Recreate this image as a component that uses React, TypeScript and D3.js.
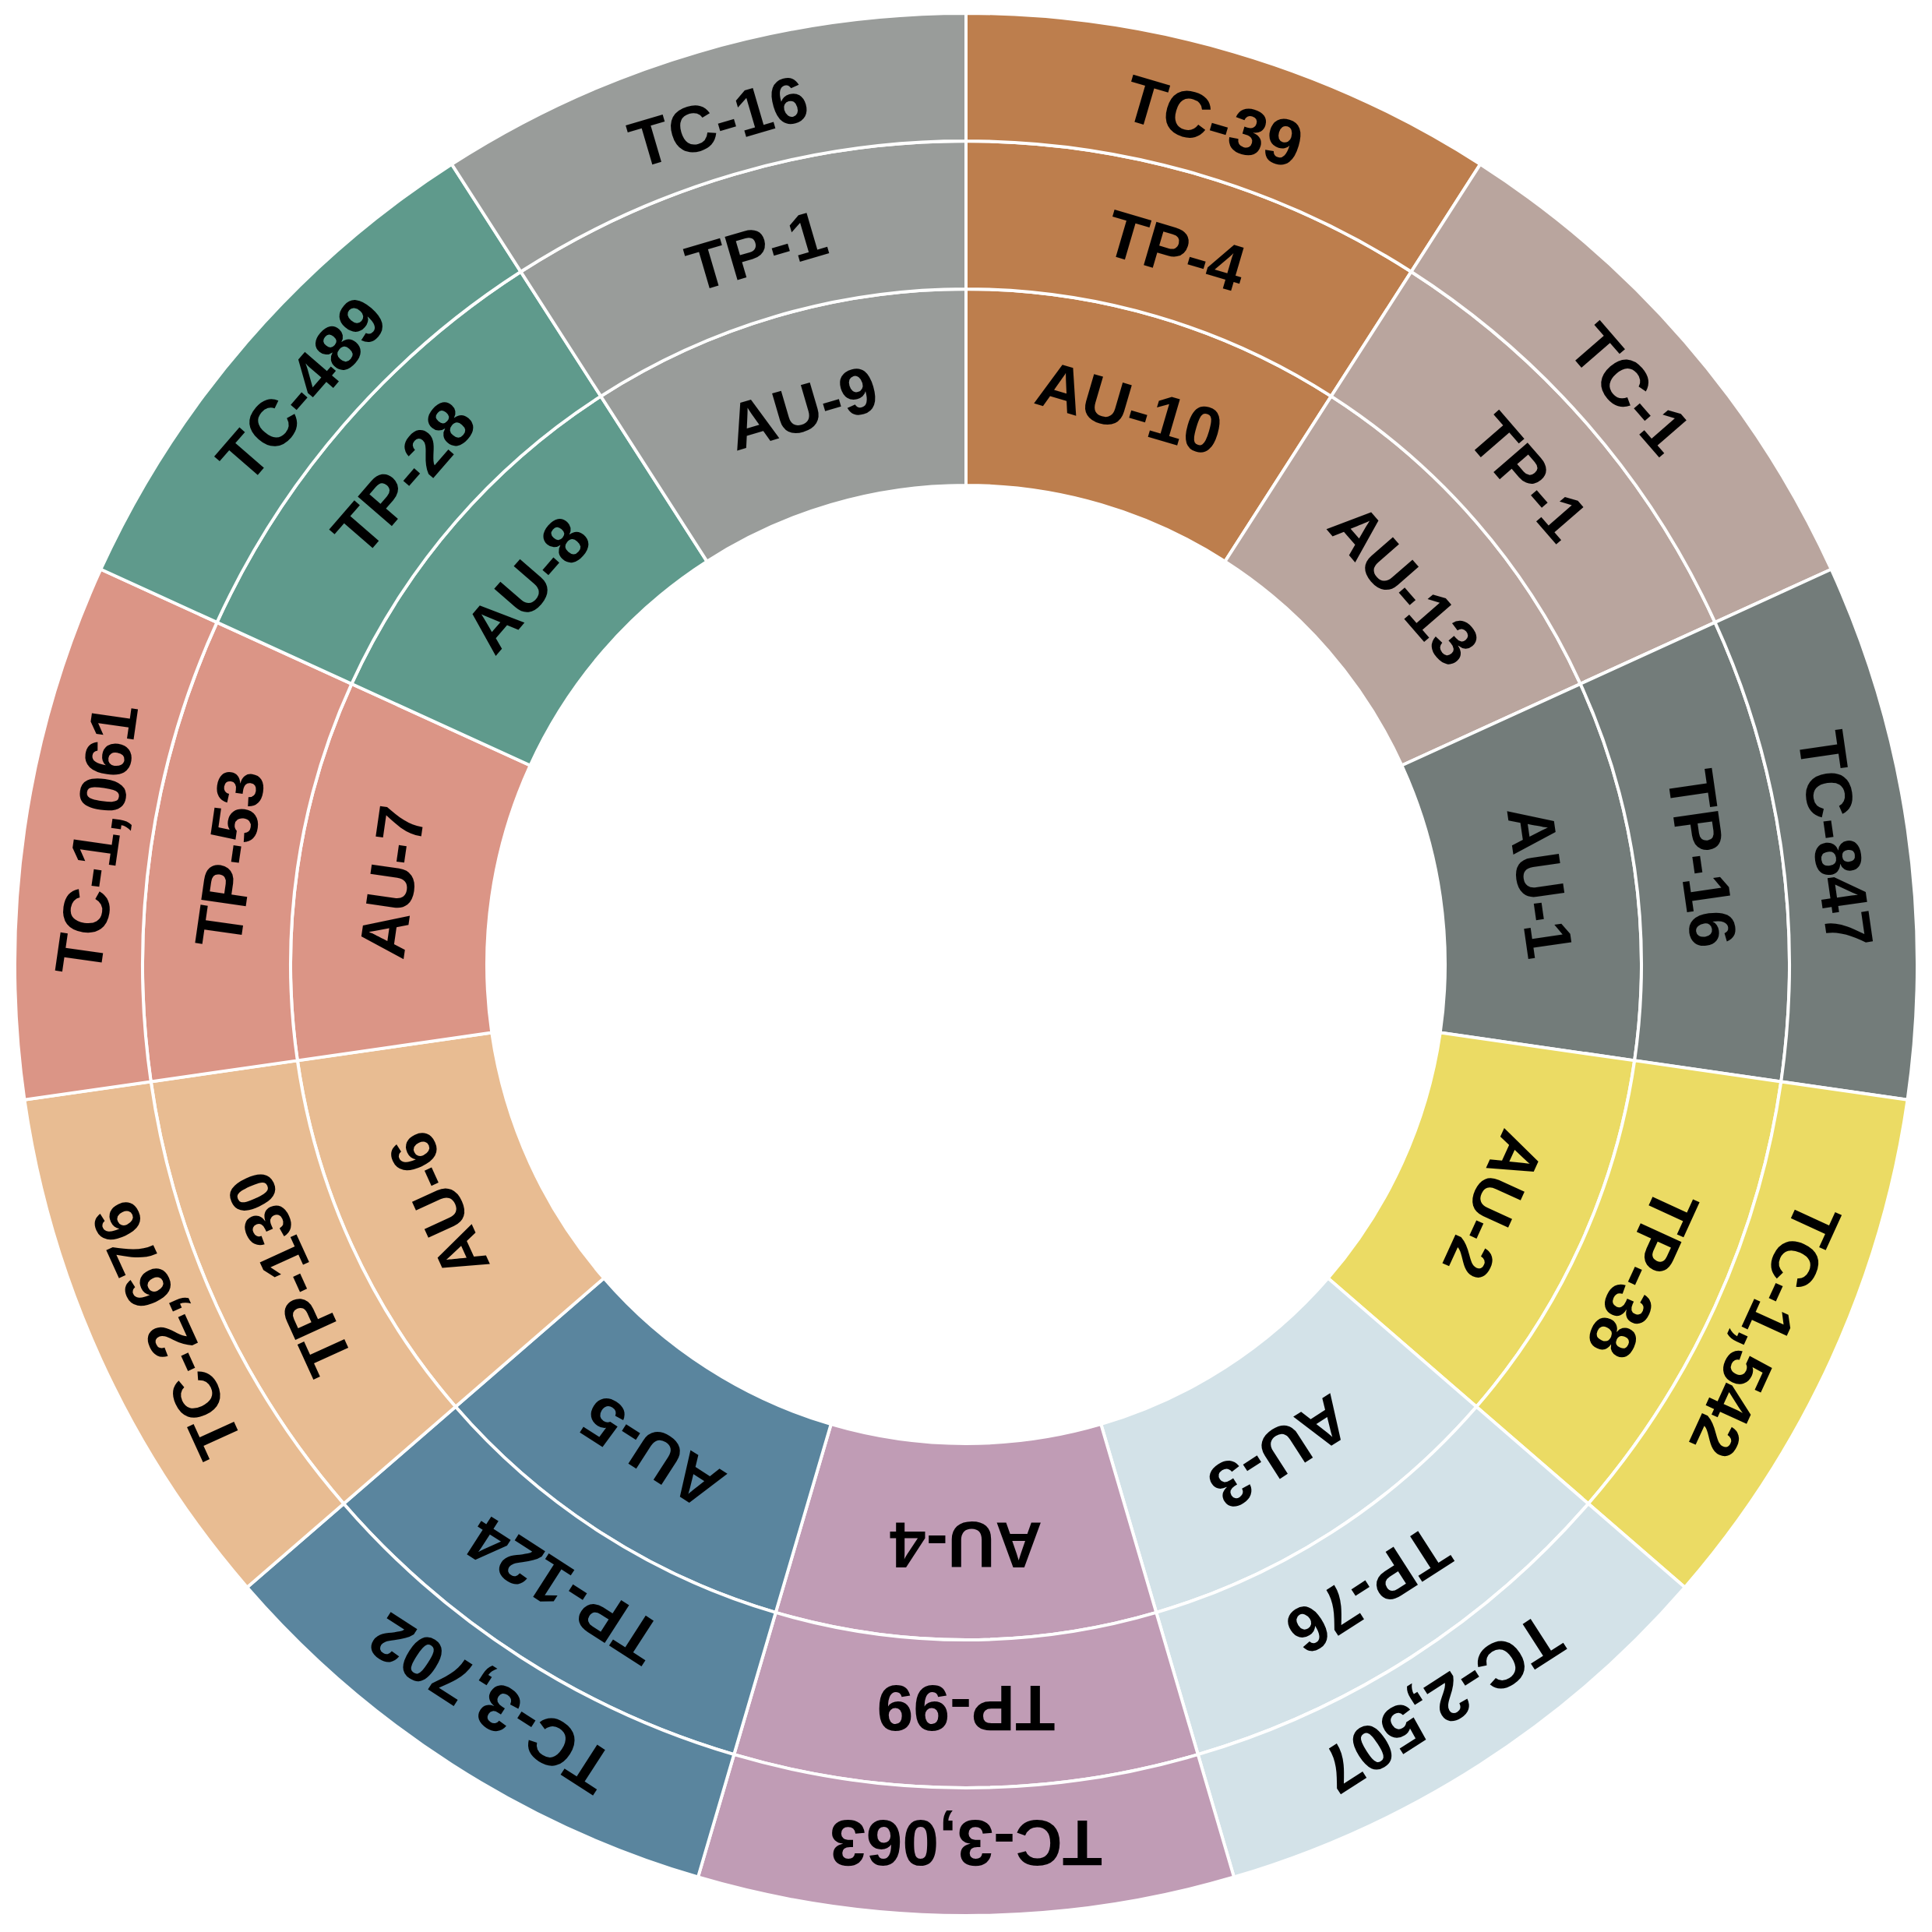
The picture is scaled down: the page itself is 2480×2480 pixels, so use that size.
import React from "react";
import * as d3 from "d3";

const categories = ["AU-10", "AU-13", "AU-1", "AU-2", "AU-3", "AU-4", "AU-5", "AU-6", "AU-7", "AU-8", "AU-9"];
const auValues = [10, 13, 1, 2, 3, 4, 5, 6, 7, 8, 9];
const tpValues = [4, 1, 16, 38, 76, 99, 124, 130, 53, 28, 1];
const tcValues = [39, 1, 847, 1542, 2507, 3063, 3702, 2676, 1061, 489, 16];
const colors = [
  "#BD7E4D", "#B9A59E", "#737C7A", "#EBDB64", "#D3E2E8", "#C09CB5",
  "#5A859E", "#E8BC92", "#DB9586", "#5F9A8C", "#999C9A",
];

const W = 2480;
const H = 2480;
const cx = 1240;
const cy = 1238;

const rings = [
  { prefix: "AU", values: auValues, inner: 615, outer: 867, labelR: 745 },
  { prefix: "TP", values: tpValues, inner: 867, outer: 1057, labelR: 955 },
  { prefix: "TC", values: tcValues, inner: 1057, outer: 1221, labelR: 1128 },
];

export default function App() {
  const pie = d3.pie<string>().value(() => 1).sort(null);
  const slices = pie(categories);
  const fmt = d3.format(",");

  return (
    <svg
      width={W}
      height={H}
      viewBox={`0 0 ${W} ${H}`}
      style={{ position: "absolute", left: 0, top: 0, display: "block", background: "#fff" }}
    >
      <g transform={`translate(${cx},${cy})`}>
        {rings.map((ring) => {
          const arc = d3.arc<d3.PieArcDatum<string>>().innerRadius(ring.inner).outerRadius(ring.outer);
          return (
            <g key={ring.prefix}>
              {slices.map((s, i) => (
                <path key={i} d={arc(s) || ""} fill={colors[i]} stroke="#ffffff" strokeWidth={4} />
              ))}
            </g>
          );
        })}
        {rings.map((ring) => (
          <g key={ring.prefix + "-lbl"}>
            {slices.map((s, i) => {
              const mid = (s.startAngle + s.endAngle) / 2;
              const deg = (mid * 180) / Math.PI;
              const x = ring.labelR * Math.sin(mid);
              const y = -ring.labelR * Math.cos(mid);
              return (
                <text
                  key={i}
                  transform={`translate(${x},${y}) rotate(${deg})`}
                  textAnchor="middle"
                  dy="0.35em"
                  fontFamily="'Liberation Sans', Arial, sans-serif"
                  fontWeight="bold"
                  fontSize={84}
                  fill="#000"
                >
                  {`${ring.prefix}-${fmt(ring.values[i])}`}
                </text>
              );
            })}
          </g>
        ))}
      </g>
    </svg>
  );
}
